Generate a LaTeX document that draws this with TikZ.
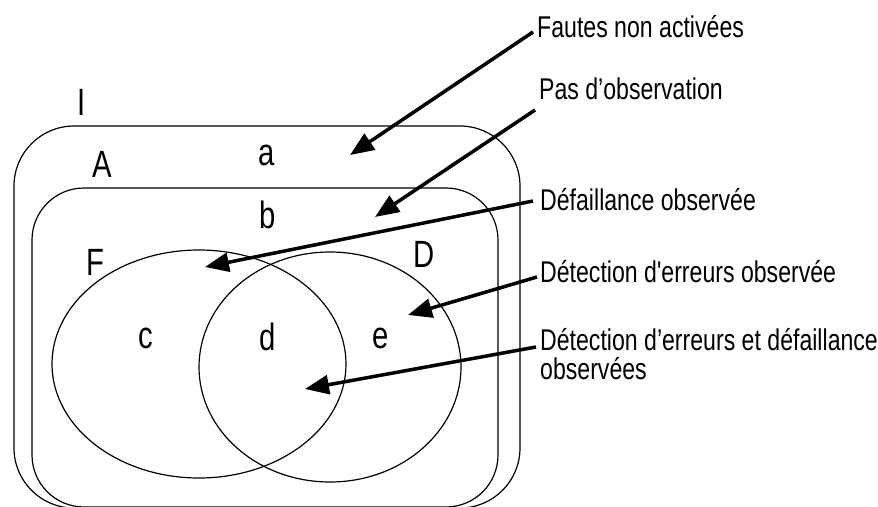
\documentclass[tikz,border=0pt]{standalone}
\usepackage{fontspec}
\setmainfont{Liberation Sans}[FakeStretch=0.77,Ligatures=TeXOff]
\usetikzlibrary{arrows.meta,calc}
\tikzset{
  set/.style={line width=1.2pt},
  arr/.style={line width=3.5pt,-{Triangle[length=24pt,width=19pt]}},
  lbl/.style={inner sep=0pt,anchor=base west,font=\fontsize{30}{29}\selectfont},
  letter/.style={inner sep=0pt,anchor=base,font=\fontsize{38}{38}\selectfont}
}
\begin{document}
\begin{tikzpicture}[x=1pt,y=-1pt]
\useasboundingbox (0,0) rectangle (878,506);
\clip (0,0) rectangle (878,506);
% sets
\draw[set,rounded corners=60pt] (14,126) rectangle (520,508);
\draw[set,rounded corners=52pt] (32,188) rectangle (498,507);
\draw[set] (199,364) ellipse [x radius=147, y radius=114];
\draw[set] (330,367) ellipse [x radius=131, y radius=115];
% set letters
\node[letter] (lI) at (82,115) {I};
\node[letter] (lA) at (102,177) {A};
\node[letter] (la) at (267,165) {a};
\node[letter] (lb) at (268,228) {b};
\node[letter] (lF) at (95,275) {F};
\node[letter] (lD) at (424,267) {D};
\node[letter] (lc) at (146,348) {c};
\node[letter] (ld) at (268,350) {d};
\node[letter] (le) at (381,348) {e};
% labels
\node[lbl] (fautes) at (537,37) {Fautes non activées};
\node[lbl] (pas) at (539,99) {Pas d’observation};
\node[lbl] (defo) at (540,210) {Défaillance observée};
\node[lbl] (deto) at (540,282) {Détection d'erreurs observée};
\node[lbl] (detd) at (540,350) {Détection d’erreurs et défaillance};
\node[lbl] (detd2) at (540,379) {observées};
% arrow tips
\coordinate (tipA) at (350,155);
\coordinate (tipB) at (375,217);
\coordinate (tipC) at (205,267);
\coordinate (tipD) at (408,315);
\coordinate (tipE) at (305,389);
% arrows
\draw[arr] ($(fautes.base west)+(-4,-5)$) -- (tipA);
\draw[arr] ($(pas.base west)+(-4,11)$) -- (tipB);
\draw[arr] ($(defo.base west)+(-7,-9)$) -- (tipC);
\draw[arr] ($(deto.base west)+(-3,-5)$) -- (tipD);
\draw[arr] ($(detd.base west)+(-4,-3)$) -- (tipE);
\end{tikzpicture}
\end{document}
